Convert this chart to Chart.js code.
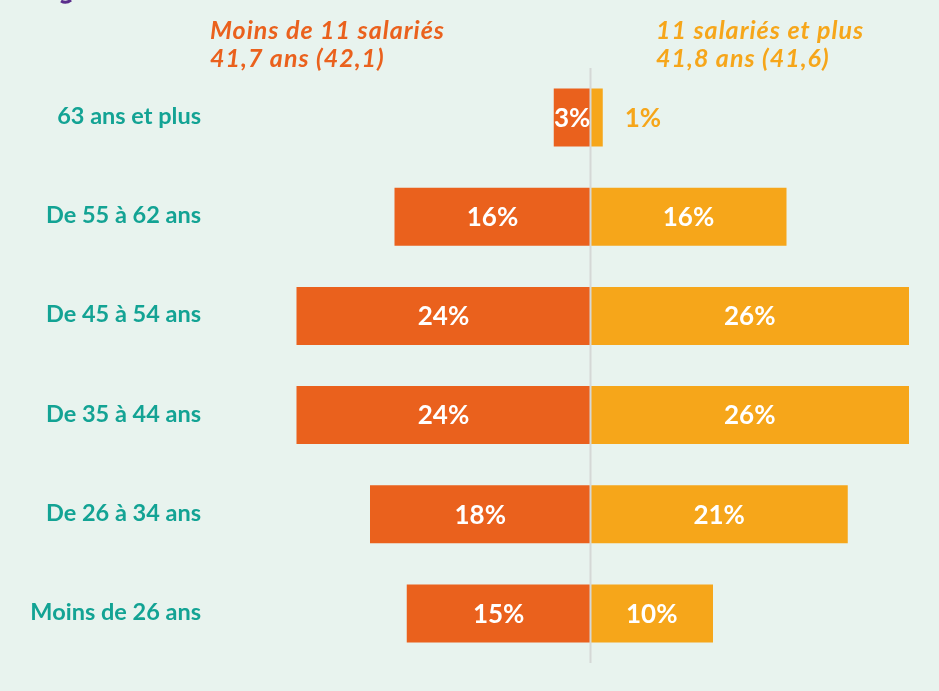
<!DOCTYPE html>
<html lang="fr">
<head>
<meta charset="utf-8">
<title>Pyramide des âges</title>
<script src="https://cdn.jsdelivr.net/npm/chart.js@4.4.1/dist/chart.umd.min.js"></script>
<style>
  html, body { margin: 0; padding: 0; background: #e8f3ee; }
  #wrap { position: relative; width: 939px; height: 691px; }
</style>
</head>
<body>
<div id="wrap"><canvas id="ageChart" width="939" height="691"></canvas></div>
<script>
// Données
const ageGroups = ['63 ans et plus', 'De 55 à 62 ans', 'De 45 à 54 ans', 'De 35 à 44 ans', 'De 26 à 34 ans', 'Moins de 26 ans'];
const smallFirms = [3, 16, 24, 24, 18, 15];   // Moins de 11 salariés
const largeFirms = [1, 16, 26, 26, 21, 10];   // 11 salariés et plus
const smallTitle = ['Moins de 11 salariés', '41,7 ans (42,1)'];
const largeTitle = ['11 salariés et plus', '41,8 ans (41,6)'];

const RED = '#ea611d';
const YELLOW = '#f6a61a';
const TEAL = '#13a394';
const FONT = 'Lato, "Open Sans", sans-serif';

// Titres au-dessus des deux séries
const headerPlugin = {
    id: 'headers',
    afterDraw(chart) {
        const ctx = chart.ctx;
        ctx.save();
        // reste du titre coupé en haut à gauche
        ctx.strokeStyle = '#5a2d8c';
        ctx.lineWidth = 3;
        ctx.beginPath();
        ctx.moveTo(61, 1);
        ctx.quadraticCurveTo(66, 4, 71, 0);
        ctx.stroke();

        ctx.font = 'italic bold 25px ' + FONT;
        ctx.letterSpacing = '1px';
        ctx.textAlign = 'left';
        ctx.textBaseline = 'alphabetic';
        ctx.fillStyle = RED;
        ctx.fillText(smallTitle[0], 210, 39);
        ctx.fillText(smallTitle[1], 210, 67);
        ctx.fillStyle = YELLOW;
        ctx.fillText(largeTitle[0], 656, 39);
        ctx.fillText(largeTitle[1], 656, 67);
        ctx.restore();
    }
};

// Libellés des tranches d'âge (alignés à droite, à gauche des barres)
const categoryPlugin = {
    id: 'categories',
    afterDraw(chart) {
        const ctx = chart.ctx;
        const y = chart.scales.y;
        ctx.save();
        ctx.font = 'bold 23.5px ' + FONT;
        ctx.fillStyle = TEAL;
        ctx.textAlign = 'right';
        ctx.textBaseline = 'middle';
        y.ticks.forEach((t, i) => {
            ctx.fillText(y.getLabelForValue(t.value), 201, y.getPixelForTick(i) - 1);
        });
        ctx.restore();
    }
};

// Ligne centrale + pourcentages
const valuePlugin = {
    id: 'values',
    afterDatasetsDraw(chart) {
        const ctx = chart.ctx;
        const area = chart.chartArea;
        const x0 = chart.scales.x.getPixelForValue(0);
        ctx.save();
        ctx.strokeStyle = '#d5d8d6';
        ctx.lineWidth = 2;
        ctx.beginPath();
        ctx.moveTo(x0, area.top);
        ctx.lineTo(x0, area.bottom);
        ctx.stroke();

        ctx.font = 'bold 26px ' + FONT;
        ctx.textBaseline = 'middle';
        chart.data.datasets.forEach((ds, i) => {
            const meta = chart.getDatasetMeta(i);
            const raw = i === 0 ? smallFirms : largeFirms;
            meta.data.forEach((bar, j) => {
                const txt = raw[j] + '%';
                if (raw[j] < 2) {
                    ctx.fillStyle = ds.backgroundColor;
                    ctx.textAlign = 'left';
                    ctx.fillText(txt, bar.x + 22, bar.y + 1);
                } else {
                    ctx.fillStyle = '#ffffff';
                    ctx.textAlign = 'center';
                    ctx.fillText(txt, (bar.x + bar.base) / 2, bar.y + 1);
                }
            });
        });
        ctx.restore();
    }
};

new Chart(document.getElementById('ageChart').getContext('2d'), {
    type: 'bar',
    data: {
        labels: ageGroups,
        datasets: [{
            label: smallTitle[0],
            data: smallFirms.map(v => -v),
            backgroundColor: RED
        }, {
            label: largeTitle[0],
            data: largeFirms,
            backgroundColor: YELLOW
        }]
    },
    options: {
        indexAxis: 'y',
        responsive: false,
        animation: false,
        layout: { padding: { top: 68, bottom: 28, right: 5.5, left: 0 } },
        datasets: {
            bar: { barPercentage: 0.585, categoryPercentage: 1, borderWidth: 0 }
        },
        plugins: {
            legend: { display: false },
            tooltip: { enabled: false }
        },
        scales: {
            x: {
                display: false,
                stacked: true,
                min: -30,
                max: 28
            },
            y: {
                stacked: true,
                grid: { display: false, drawTicks: false },
                border: { display: false },
                ticks: { display: false },
                afterFit(scale) {
                    scale.width = 223;
                }
            }
        }
    },
    plugins: [headerPlugin, categoryPlugin, valuePlugin]
});
</script>
</body>
</html>
